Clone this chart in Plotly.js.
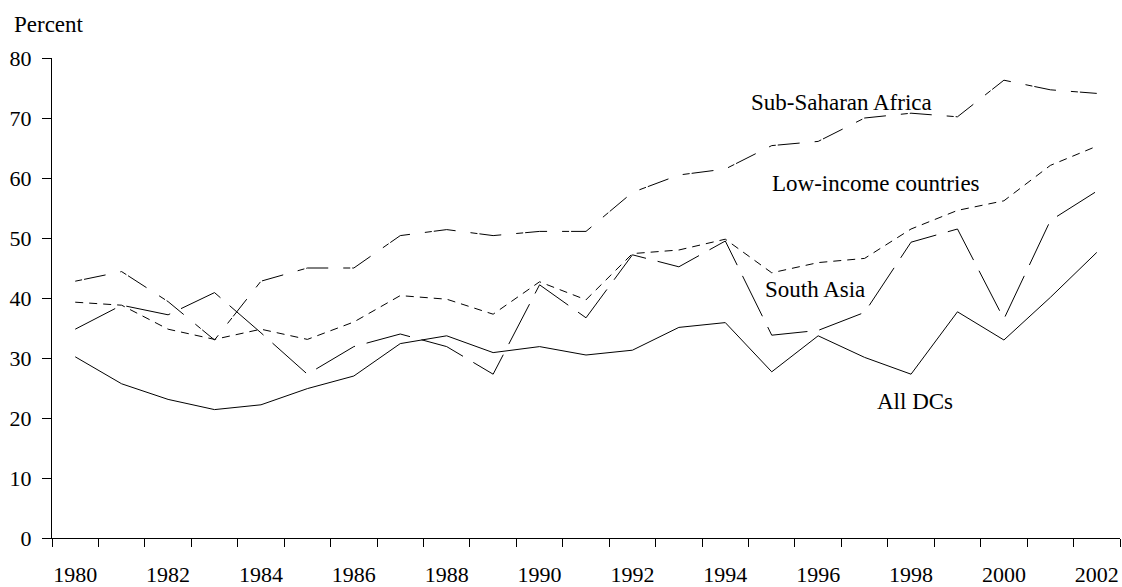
<!DOCTYPE html>
<html>
<head>
<meta charset="utf-8">
<script src="https://cdn.plot.ly/plotly-3.0.1.min.js"></script>
<style>html,body{margin:0;padding:0;background:#fff;}#chart{width:1122px;height:587px;}</style>
</head>
<body>
<div id="chart"></div>
<script>
var years = ["1980","1981","1982","1983","1984","1985","1986","1987","1988","1989","1990","1991","1992","1993","1994","1995","1996","1997","1998","1999","2000","2001","2002"];
var yearLabels = ["1980","","1982","","1984","","1986","","1988","","1990","","1992","","1994","","1996","","1998","","2000","","2002"];
var subSaharanAfrica = [42.8,44.4,39.4,33.0,42.8,45.0,45.0,50.4,51.4,50.4,51.1,51.1,57.6,60.5,61.5,65.4,66.1,70.0,70.8,70.2,76.3,74.7,74.1];
var lowIncome = [39.3,38.8,34.8,33.1,34.8,33.1,36.0,40.4,39.8,37.3,42.7,39.7,47.4,48.0,49.8,44.2,45.9,46.6,51.5,54.6,56.2,62.1,65.3];
var southAsia = [34.8,38.8,37.2,40.9,34.2,27.3,31.9,34.0,31.9,27.3,42.2,36.7,47.2,45.2,49.5,33.8,34.6,37.6,49.3,51.5,36.5,52.9,57.8];
var allDCs = [30.2,25.7,23.1,21.4,22.2,24.9,27.0,32.4,33.7,30.9,31.9,30.5,31.3,35.1,35.9,27.7,33.7,30.1,27.3,37.7,33.0,40.1,47.6];
var seriesNames = ["Sub-Saharan Africa","Low-income countries","South Asia","All DCs"];
var yTicks = [0,10,20,30,40,50,60,70,80];

var FONT = "'Liberation Serif', 'DejaVu Serif', serif";
function mk(y, name, dash) {
  return {x: years, y: y, name: name, type: "scatter", mode: "lines",
          line: {color: "#000", width: 1, dash: dash}, hoverinfo: "skip"};
}
var data = [
  mk(subSaharanAfrica, seriesNames[0], "7px,2px,22px,15px"),
  mk(lowIncome, seriesNames[1], "8px,6px"),
  mk(southAsia, seriesNames[2], "45px,12px"),
  mk(allDCs, seriesNames[3], "solid")
];
function ann(text, x, y, xa) {
  return {text: text, xref: "paper", yref: "paper", x: x, y: y, xanchor: xa || "center", yanchor: "middle",
          showarrow: false, font: {family: FONT, size: 23, color: "#000"}};
}
var layout = {
  width: 1122, height: 587,
  margin: {l: 52, r: 2, t: 58, b: 49},
  paper_bgcolor: "#fff", plot_bgcolor: "#fff",
  showlegend: false,
  font: {family: FONT, size: 22, color: "#000"},
  xaxis: {
    type: "category", range: [-0.5, 22.5],
    tickvals: years, ticktext: yearLabels, tickangle: 0,
    tickson: "boundaries", ticks: "outside", ticklen: 8, tickcolor: "#000", tickwidth: 1,
    showline: true, linecolor: "#000", linewidth: 1,
    showgrid: false, zeroline: false,
    ticklabelstandoff: 17,
    tickfont: {family: FONT, size: 22, color: "#000"}
  },
  yaxis: {
    range: [0, 80], tickmode: "array", tickvals: yTicks,
    ticks: "outside", ticklen: 9, tickcolor: "#000", tickwidth: 1,
    showline: true, linecolor: "#000", linewidth: 1,
    showgrid: false, zeroline: false,
    ticklabelstandoff: 6,
    tickfont: {family: FONT, size: 22, color: "#000"}
  },
  annotations: [
    ann("Percent", -0.0372, 1.0698, "left"),
    ann(seriesNames[0], 0.7397, 0.9083),
    ann(seriesNames[1], 0.7715, 0.7386),
    ann(seriesNames[2], 0.7144, 0.5167),
    ann(seriesNames[3], 0.8076, 0.2854)
  ]
};
Plotly.newPlot("chart", data, layout, {staticPlot: true, displayModeBar: false});
</script>
</body>
</html>
